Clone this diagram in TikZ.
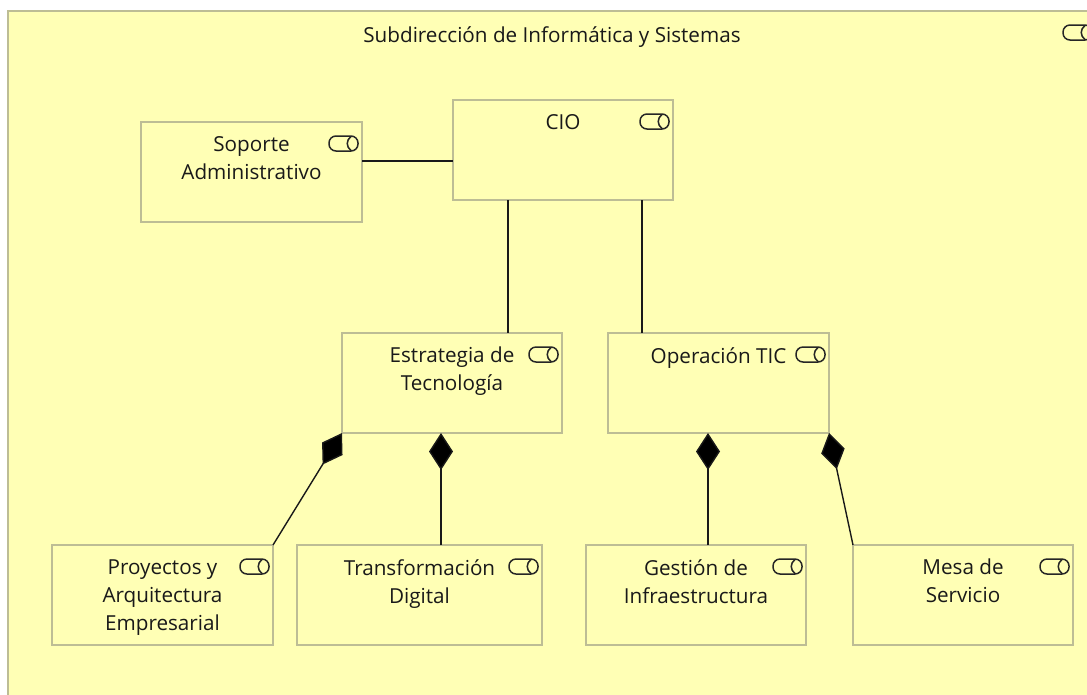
\documentclass[tikz,border=0pt]{standalone}
\usepackage{fontspec}
\setmainfont{Open Sans}
\usetikzlibrary{arrows.meta}
\definecolor{fondo}{HTML}{FFFFB5}
\definecolor{borde}{HTML}{BDBD95}
\newcommand{\px}{0.75pt}

\tikzset{
    elemento/.style={draw=borde, fill=fondo, line width=1.2*\px, inner sep=0pt, outer sep=0pt},
    rotulo/.style={anchor=north, align=center, inner sep=0pt, font=\fontsize{15.5}{21}\selectfont, text=black!90},
    union/.style={draw=black!90, line width=1.4*\px},
    composicion/.style={union, -{Diamond[length=37*\px, width=24*\px, fill=black]}},
    rol/.pic={
        \draw[black!85, line width=1.5*\px, rounded corners=7*\px] (0,0) rectangle (29,15);
        \draw[black!85, line width=1.5*\px] (22,0.5) .. controls (17,4) and (17,11) .. (22,14.5);
    }
}

\begin{document}
\begin{tikzpicture}[x=\px, y=-\px]

    \clip (0,0) rectangle (1087,694);
    \fill[white] (0,0) rectangle (1087,694);

    \node[elemento, minimum width=1088*\px, minimum height=700*\px] (subdireccion) at (552,361) {};
    \node[rotulo] (subdireccionT) at ([yshift=-15*\px]subdireccion.north) {Subdirección de Informática y Sistemas};

    \node[elemento, minimum width=221*\px, minimum height=100*\px] (soporte) at (251.5,172) {};
    \node[elemento, minimum width=220*\px, minimum height=100*\px] (cio) at (563,150) {};
    \node[elemento, minimum width=220*\px, minimum height=100*\px] (estrategia) at (452,383) {};
    \node[elemento, minimum width=221*\px, minimum height=100*\px] (operacion) at (718.5,383) {};
    \node[elemento, minimum width=221*\px, minimum height=100*\px] (proyectos) at (162.5,595) {};
    \node[elemento, minimum width=245*\px, minimum height=100*\px] (transformacion) at (419.5,595) {};
    \node[elemento, minimum width=220*\px, minimum height=100*\px] (gestion) at (696,595) {};
    \node[elemento, minimum width=220*\px, minimum height=100*\px] (mesa) at (963,595) {};

    \node[rotulo] (soporteT) at ([yshift=-14*\px]soporte.north) {Soporte\\Administrativo};
    \node[rotulo] (cioT) at ([yshift=-14*\px]cio.north) {CIO};
    \node[rotulo] (estrategiaT) at ([yshift=-14*\px]estrategia.north) {Estrategia de\\Tecnología};
    \node[rotulo] (operacionT) at ([yshift=-14*\px]operacion.north) {Operación TIC};
    \node[rotulo] (proyectosT) at ([yshift=-14*\px]proyectos.north) {Proyectos y\\Arquitectura\\Empresarial};
    \node[rotulo] (transformacionT) at ([yshift=-14*\px]transformacion.north) {Transformación\\Digital};
    \node[rotulo] (gestionT) at ([yshift=-14*\px]gestion.north) {Gestión de\\Infraestructura};
    \node[rotulo] (mesaT) at ([yshift=-14*\px]mesa.north) {Mesa de\\Servicio};

    \foreach \n in {subdireccion, soporte, cio, estrategia, operacion, proyectos, transformacion, gestion, mesa} {
        \pic at ([shift={(-33,14)}]\n.north east) {rol};
    }

    \draw[union] ([yshift=11*\px]soporte.east) -- ([yshift=11*\px]soporte.east -| cio.west);
    \draw[union] ([xshift=-55*\px]cio.south) -- ([xshift=-55*\px]cio.south |- estrategia.north);
    \draw[union] ([xshift=79*\px]cio.south) -- ([xshift=79*\px]cio.south |- operacion.north);

    \draw[composicion] (proyectos.north east) -- (estrategia.south west);
    \draw[composicion] ([xshift=21.5*\px]transformacion.north) -- ([xshift=-11*\px]estrategia.south);
    \draw[composicion] ([xshift=12*\px]gestion.north) -- ([xshift=-10.5*\px]operacion.south);
    \draw[composicion] (mesa.north west) -- (operacion.south east);

\end{tikzpicture}
\end{document}
